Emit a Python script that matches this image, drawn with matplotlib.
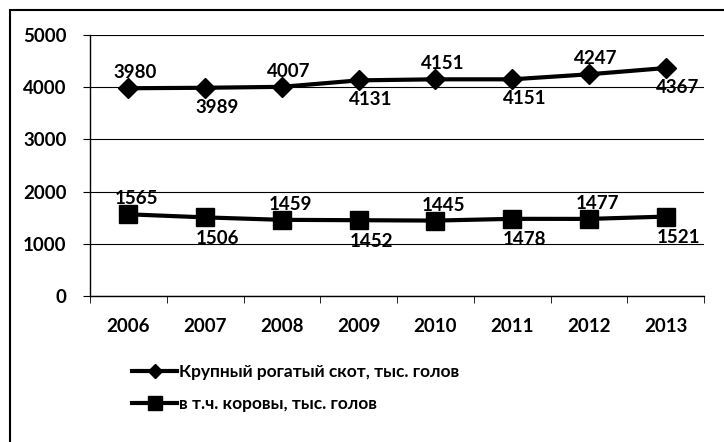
import numpy as np
import matplotlib.pyplot as plt
from matplotlib.patches import Rectangle

years = ['2006', '2007', '2008', '2009', '2010', '2011', '2012', '2013']
cattle = [3980, 3989, 4007, 4131, 4151, 4151, 4247, 4367]
cows = [1565, 1506, 1459, 1452, 1445, 1478, 1477, 1521]
cattle_name = 'Крупный рогатый скот, тыс. голов'
cows_name = 'в т.ч. коровы, тыс. голов'

plt.rcParams['font.family'] = ['Lato', 'DejaVu Sans']
plt.rcParams['font.weight'] = 'bold'

fig = plt.figure(figsize=(7.24, 4.42), dpi=100)
ax = fig.add_axes([90/724, 1-296/442, 614/724, 261/442])

x = np.arange(len(years))
ax.plot(x, cattle, color='black', lw=3, marker='D', ms=10, label=cattle_name)
ax.plot(x, cows, color='black', lw=3, marker='s', ms=13, label=cows_name)

# labels alternate above / below
for i in range(len(years)):
    up = (i % 2 == 0)
    ax.annotate(str(cattle[i]), (x[i], cattle[i]), textcoords='offset points',
                xytext=(5, 5) if up else (9, -8), ha='center',
                va='bottom' if up else 'top', fontsize=13.5, fontweight='bold')
    ax.annotate(str(cows[i]), (x[i], cows[i]), textcoords='offset points',
                xytext=(6, 5) if up else (9, -9), ha='center',
                va='bottom' if up else 'top', fontsize=13.5, fontweight='bold')

ax.set_xlim(-0.5, len(years) - 0.5)
ax.set_ylim(0, 5000)
ax.set_yticks([0, 1000, 2000, 3000, 4000, 5000])
ax.set_xticks(x)
ax.set_xticklabels(years)
ax.set_xticks(np.arange(-0.5, len(years)), minor=True)
ax.tick_params(axis='x', which='major', length=0, pad=16, labelsize=13.5)
ax.tick_params(axis='x', which='minor', length=5, direction='out')
ax.tick_params(axis='y', length=5, labelsize=13.5, pad=12)
ax.yaxis.grid(True, color='black', lw=0.8)
ax.set_axisbelow(True)
for s in ['top', 'right']:
    ax.spines[s].set_visible(False)
ax.spines['left'].set_linewidth(1)
ax.spines['bottom'].set_linewidth(1)

ax.legend(loc='upper left', bbox_to_anchor=(132/724, 1-364/442),
          bbox_transform=fig.transFigure, frameon=False, borderpad=0,
          borderaxespad=0, handlelength=2.6, handletextpad=0.1,
          labelspacing=0.9, markerscale=0.75,
          prop={'weight': 'bold', 'size': 12.5})

fig.patches.append(Rectangle((10/724, -0.1), 1.0, 1 - 10/442 + 0.1,
                             transform=fig.transFigure, fill=False,
                             edgecolor='black', lw=1.5))

fig.savefig('out.png', dpi=100)
